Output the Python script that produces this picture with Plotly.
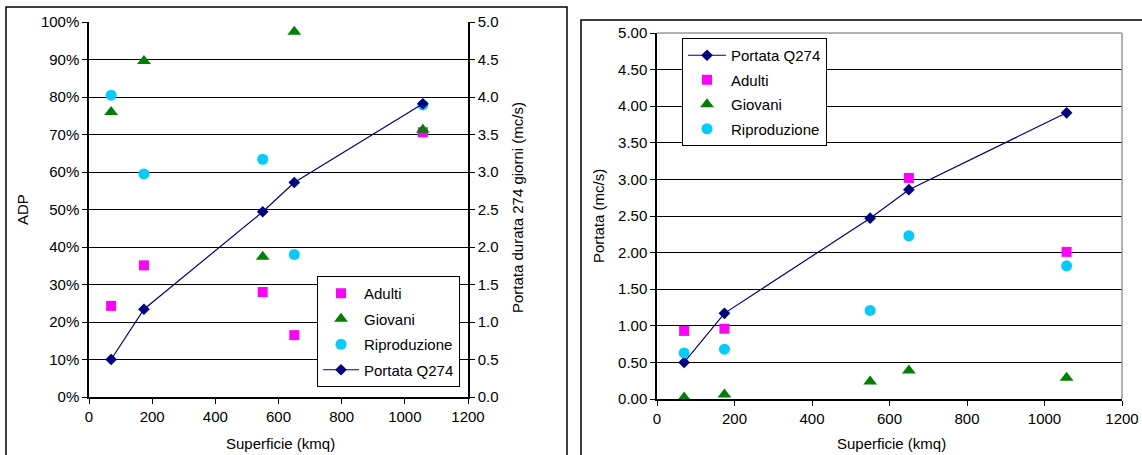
import plotly.graph_objects as go

# ---- data ----
superficie = [70, 174, 550, 650, 1057]
portata_q274 = [0.50, 1.17, 2.47, 2.86, 3.91]
adp_adulti = [24.3, 35.1, 28.0, 16.5, 70.6]
adp_giovani = [76.0, 89.6, 37.4, 97.4, 71.3]
adp_riproduzione = [80.5, 59.5, 63.4, 38.0, 77.9]
q_adulti = [0.93, 0.96, None, 3.02, 2.01]
q_giovani = [0.02, 0.06, 0.24, 0.39, 0.29]
q_riproduzione = [0.63, 0.68, 1.21, 2.23, 1.82]

W, H = 1142, 455
FONT = "Liberation Sans, Arial, sans-serif"
FS = 15
C_AD = "#FF00FF"
C_GI = "#008000"
C_RI = "#00CCFF"
C_PO = "#000080"


def px(x):
    return x / W


def py(y):
    return 1 - y / H


fig = go.Figure()

# ---- left chart ----
fig.add_trace(go.Scatter(x=superficie, y=adp_adulti, mode="markers", name="Adulti",
                         marker=dict(symbol="square", size=10, color=C_AD),
                         xaxis="x", yaxis="y", legend="legend", legendgroup="a"))
fig.add_trace(go.Scatter(x=superficie, y=adp_giovani, mode="markers", name="Giovani",
                         marker=dict(symbol="triangle-up", size=12, color=C_GI),
                         xaxis="x", yaxis="y", legend="legend", legendgroup="g"))
fig.add_trace(go.Scatter(x=superficie, y=adp_riproduzione, mode="markers", name="Riproduzione",
                         marker=dict(symbol="circle", size=11, color=C_RI),
                         xaxis="x", yaxis="y", legend="legend", legendgroup="r"))
fig.add_trace(go.Scatter(x=superficie, y=portata_q274, mode="lines+markers", name="Portata Q274",
                         line=dict(color=C_PO, width=1.2),
                         marker=dict(symbol="diamond", size=9, color=C_PO),
                         xaxis="x", yaxis="y2", legend="legend", legendgroup="p"))

# ---- right chart ----
fig.add_trace(go.Scatter(x=superficie, y=portata_q274, mode="lines+markers", name="Portata Q274",
                         line=dict(color=C_PO, width=1.2),
                         marker=dict(symbol="diamond", size=9, color=C_PO),
                         xaxis="x2", yaxis="y3", legend="legend2", legendgroup="p2"))
fig.add_trace(go.Scatter(x=superficie, y=q_adulti, mode="markers", name="Adulti",
                         marker=dict(symbol="square", size=10, color=C_AD),
                         xaxis="x2", yaxis="y3", legend="legend2", legendgroup="a2"))
fig.add_trace(go.Scatter(x=superficie, y=q_giovani, mode="markers", name="Giovani",
                         marker=dict(symbol="triangle-up", size=12, color=C_GI),
                         xaxis="x2", yaxis="y3", legend="legend2", legendgroup="g2"))
fig.add_trace(go.Scatter(x=superficie, y=q_riproduzione, mode="markers", name="Riproduzione",
                         marker=dict(symbol="circle", size=11, color=C_RI),
                         xaxis="x2", yaxis="y3", legend="legend2", legendgroup="r2"))

axis_common = dict(showline=True, linecolor="black", linewidth=1.5, ticks="outside",
                   ticklen=5, tickcolor="black", tickwidth=1, automargin=False,
                   tickfont=dict(family=FONT, size=FS, color="black"), zeroline=False)

fig.update_layout(
    template="none",
    width=W, height=H,
    autosize=False,
    margin=dict(l=0, r=0, t=0, b=0, pad=0),
    paper_bgcolor="white", plot_bgcolor="white",
    font=dict(family=FONT, size=FS, color="black"),
    xaxis=dict(domain=[px(89), px(468)], range=[0, 1200], dtick=200, showgrid=False,
               anchor="y", **axis_common),
    yaxis=dict(domain=[py(397), py(22)], range=[0, 100], dtick=10, ticksuffix="%",
               showgrid=True, gridcolor="black", gridwidth=1, anchor="x", **axis_common),
    yaxis2=dict(range=[0, 5], dtick=0.5, tickformat=".1f", overlaying="y", side="right",
                showgrid=False, anchor="x", **axis_common),
    xaxis2=dict(domain=[px(657), px(1122)], range=[0, 1200], dtick=200, showgrid=False,
                anchor="y3", **axis_common),
    yaxis3=dict(domain=[py(399), py(33)], range=[0, 5], dtick=0.5, tickformat=".2f",
                showgrid=True, gridcolor="black", gridwidth=1, anchor="x2", **axis_common),
    legend=dict(x=px(317), y=py(276), xanchor="left", yanchor="top",
                bgcolor="white", bordercolor="black", borderwidth=1,
                font=dict(family=FONT, size=FS, color="black"),
                itemwidth=36, tracegroupgap=3),
    legend2=dict(x=px(682), y=py(38), xanchor="left", yanchor="top",
                 bgcolor="white", bordercolor="black", borderwidth=1,
                 font=dict(family=FONT, size=FS, color="black"),
                 itemwidth=38, tracegroupgap=2),
    showlegend=True,
)

annotations = [
    dict(text="ADP", x=px(22), y=py(210), textangle=-90),
    dict(text="Portata durata 274 giorni (mc/s)", x=px(518), y=py(208), textangle=-90),
    dict(text="Superficie (kmq)", x=px(280), y=py(443)),
    dict(text="Portata (mc/s)", x=px(598), y=py(216), textangle=-90),
    dict(text="Superficie (kmq)", x=px(891), y=py(443)),
]
for a in annotations:
    a.update(xref="paper", yref="paper", showarrow=False, xanchor="center", yanchor="middle",
             font=dict(family=FONT, size=FS, color="black"))
fig.update_layout(annotations=annotations)

shapes = [
    # panel borders
    dict(type="rect", xref="paper", yref="paper", x0=px(6), x1=px(567), y0=-0.05, y1=py(7),
         line=dict(color="black", width=1.5), layer="below"),
    dict(type="rect", xref="paper", yref="paper", x0=px(581), x1=1.05, y0=-0.05, y1=py(20),
         line=dict(color="black", width=1.5), layer="below"),
    # right chart plot-area border (grey top/right)
    dict(type="line", xref="paper", yref="paper", x0=px(657), x1=px(1122), y0=py(33), y1=py(33),
         line=dict(color="#999999", width=1.5), layer="above"),
    dict(type="line", xref="paper", yref="paper", x0=px(1122), x1=px(1122), y0=py(399), y1=py(33),
         line=dict(color="#999999", width=1.5), layer="above"),
]
fig.update_layout(shapes=shapes)

fig.write_html("out.html",
               config={"displayModeBar": False},
               post_script="document.body.style.margin='0';document.body.style.overflow='hidden';")
